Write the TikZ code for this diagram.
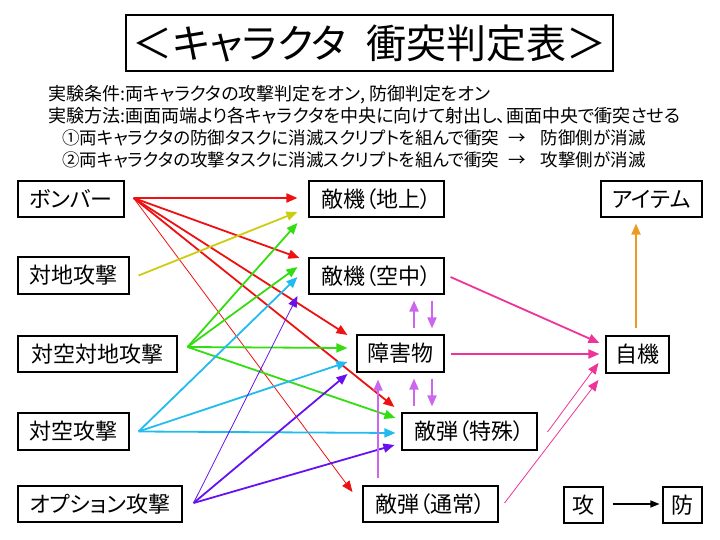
\documentclass[tikz,border=0pt]{standalone}
\usepackage{fontspec}
\usetikzlibrary{arrows.meta}
\newfontfamily\jp[CharacterWidth=AlternateProportional]{Noto Sans CJK JP}

\definecolor{bombred}{HTML}{EE1111}
\definecolor{gndyellow}{HTML}{CCCC11}
\definecolor{dualgreen}{HTML}{33DD11}
\definecolor{aircyan}{HTML}{22BBEE}
\definecolor{optpurple}{HTML}{6611EE}
\definecolor{hitpink}{HTML}{EE3399}
\definecolor{lilac}{HTML}{CC66EE}
\definecolor{itemorange}{HTML}{EE9922}

\tikzset{
  unit box/.style={draw, line width=1.1pt, inner sep=0pt, font=\jp\fontsize{22}{22}\selectfont},
  note/.style={anchor=west, inner sep=0pt, font=\jp\fontsize{18}{18}\selectfont},
  case/.style={note, font=\jp\fontsize{17.5}{17.5}\selectfont},
  hit/.style={-{Triangle[length=11pt,width=9pt]}, line width=1.8pt},
  thin hit/.style={-{Triangle[length=11pt,width=9pt]}, line width=0.8pt},
}

\begin{document}
\begin{tikzpicture}[x=1pt,y=-1pt]
        \useasboundingbox (0,0) rectangle (720,540);
        %\draw[very thin,gray,step=20] (0,0) grid (720,540);

        % title and notes
        \node[draw,line width=1.1pt,minimum width=487,minimum height=56,
          font=\jp\fontsize{40}{40}\selectfont] (title) at (369.5,43)
          {＜キャラクタ\hspace{20pt}衝突判定表＞};
        \node[note] (cond) at (48,95) {実験条件:両キャラクタの攻撃判定をオン, 防御判定をオン};
        \node[note] (meth) at (48,116) {実験方法:画面両端より各キャラクタを中央に向けて射出し、画面中央で衝突させる};
        \node[case] (caseA) at (62,138) {①両キャラクタの防御タスクに消滅スクリプトを組んで衝突\hspace{9pt}→\hspace{15pt}防御側が消滅};
        \node[case] (caseB) at (62,160) {②両キャラクタの攻撃タスクに消滅スクリプトを組んで衝突\hspace{9pt}→\hspace{15pt}攻撃側が消滅};

        % attackers
        \node[unit box,minimum width=106,minimum height=36] (bomb) at (71,199) {ボンバー};
        \node[unit box,minimum width=111,minimum height=37] (gndatk) at (73.5,275.5) {対地攻撃};
        \node[unit box,minimum width=159,minimum height=36] (dualatk) at (97.5,354) {対空対地攻撃};
        \node[unit box,minimum width=111,minimum height=37] (airatk) at (73.5,431.5) {対空攻撃};
        \node[unit box,minimum width=164,minimum height=36] (optatk) at (100,504) {オプション攻撃};

        % targets
        \node[unit box,minimum width=135,minimum height=36] (egnd) at (376.5,199) {敵機（地上）};
        \node[unit box,minimum width=135,minimum height=36] (eair) at (376.5,276) {敵機（空中）};
        \node[unit box,minimum width=87,minimum height=37] (obst) at (400.5,353.5) {障害物};
        \node[unit box,minimum width=135,minimum height=37] (esp) at (469.5,431.5) {敵弾（特殊）};
        \node[unit box,minimum width=135,minimum height=36] (eshot) at (430.5,504) {敵弾（通常）};
        \node[unit box,minimum width=101,minimum height=36] (item) at (651.5,199) {アイテム};
        \node[unit box,minimum width=63,minimum height=37] (self) at (637.5,354.5) {自機};
        \node[unit box,minimum width=39,minimum height=36] (atk) at (583.5,505) {攻};
        \node[unit box,minimum width=39,minimum height=36] (def) at (682.5,505) {防};

        % bomber
        \draw[hit,bombred] ([shift={(9,-1)}]bomb.east) -- ([shift={(-11,-1)}]egnd.west);
        \draw[hit,bombred] ([shift={(9,-1)}]bomb.east) -- ([shift={(-9,-18)}]eair.west);
        \draw[hit,bombred] ([shift={(9,-1)}]bomb.east) -- ([shift={(-9,-18.5)}]obst.west);
        \draw[hit,bombred] ([shift={(9,-1)}]bomb.east) -- ([shift={(-7,-24.5)}]esp.west);
        \draw[thin hit,bombred] ([shift={(9,-1)}]bomb.east) -- ([shift={(-10,-12)}]eshot.west);

        % ground attack
        \draw[hit,gndyellow] ([shift={(9,0)}]gndatk.east) -- ([shift={(-11,13)}]egnd.west);

        % air and ground attack
        \draw[hit,dualgreen] ([shift={(10,-7)}]dualatk.east) -- ([shift={(-11,24)}]egnd.west);
        \draw[hit,dualgreen] ([shift={(10,-7)}]dualatk.east) -- ([shift={(-11,-9)}]eair.west);
        \draw[hit,dualgreen] ([shift={(10,-7)}]dualatk.east) -- ([shift={(-9,-5.5)}]obst.west);
        \draw[hit,dualgreen] ([shift={(10,-7)}]dualatk.east) -- ([shift={(-6,-13.5)}]esp.west);

        % air attack
        \draw[hit,aircyan] ([shift={(9,0)}]airatk.east) -- ([shift={(-11,1)}]eair.west);
        \draw[hit,aircyan] ([shift={(9,0)}]airatk.east) -- ([shift={(-9,8.5)}]obst.west);
        \draw[hit,aircyan] ([shift={(9,0)}]airatk.east) -- ([shift={(-6,1.5)}]esp.west);

        % option attack
        \draw[thin hit,optpurple] ([shift={(11,-1)}]optatk.east) -- ([shift={(-11,20)}]eair.west);
        \draw[hit,optpurple] ([shift={(11,-1)}]optatk.east) -- ([shift={(-9,20.5)}]obst.west);
        \draw[hit,optpurple] ([shift={(11,-1)}]optatk.east) -- ([shift={(-7,13.5)}]esp.west);

        % enemies against own ship
        \draw[hit,hitpink] ([shift={(6,1)}]eair.east) -- ([shift={(-6,-11.5)}]self.west);
        \draw[hit,hitpink] ([shift={(6,0.5)}]obst.east) -- ([shift={(-6,-0.5)}]self.west);
        \draw[thin hit,hitpink] ([shift={(10,0.5)}]esp.east) -- ([shift={(-7,8.5)}]self.west);
        \draw[thin hit,hitpink] ([shift={(6,-1)}]eshot.east) -- ([shift={(-7,25.5)}]self.west);

        % obstacle against enemies
        \draw[hit,lilac] ([shift={(13.5,-6)}]obst.north) -- ([shift={(37.5,6)}]eair.south);
        \draw[hit,lilac] ([shift={(55.5,6)}]eair.south) -- ([shift={(31.5,-6)}]obst.north);
        \draw[hit,lilac] ([shift={(-55.5,-6)}]esp.north) -- ([shift={(13.5,6)}]obst.south);
        \draw[hit,lilac] ([shift={(31.5,6)}]obst.south) -- ([shift={(-37.5,-6)}]esp.north);
        \draw[hit,lilac] ([shift={(-52.5,-7)}]eshot.north) -- ([shift={(-22.5,7)}]obst.south);

        % own ship against item
        \draw[hit,itemorange] ([shift={(-1.5,-7)}]self.north) -- ([shift={(-15.5,6)}]item.south);

        % legend
        \draw[-{Triangle[length=9pt,width=7pt]},line width=1.3pt] ([shift={(9,-1)}]atk.east) -- ([shift={(-3,-1)}]def.west);
      \end{tikzpicture}
\end{document}
